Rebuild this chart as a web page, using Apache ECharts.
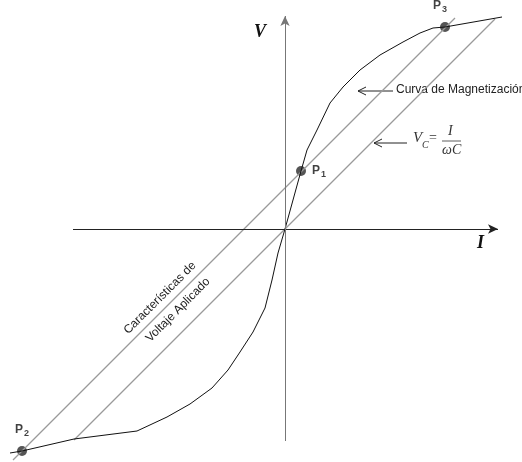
<!DOCTYPE html>
<html>
<head>
<meta charset="utf-8">
<script src="https://cdn.jsdelivr.net/npm/echarts@6/dist/echarts.min.js"></script>
<style>
  html, body { margin: 0; padding: 0; background: #fff; }
  #chart { width: 522px; height: 462px; }
</style>
</head>
<body>
<div id="chart"></div>
<script>
// coordinates relative to the origin of the I-V axes (1 unit = 1 px)
var curveI = [-275, -263, -211, -148, -118, -95, -73, -57, -45, -32, -20, -13, -7, 0, 8, 16, 22, 32, 45, 58, 75, 95, 118, 135, 148, 160, 217];
var curveV = [-224, -222, -210, -202, -188, -175, -159, -141, -123, -103, -79, -51, -24, 0, 29, 58, 79, 99, 126, 142, 159, 174, 187, 196, 201, 202, 212];
// applied voltage characteristics (two parallel lines)
var lineA = [[-272, -231], [170, 211]];
var lineB = [[-211, -211], [210, 210]];
// intersection points
var pointNames = ['P1', 'P2', 'P3'];
var pointI = [16, -263, 160];
var pointV = [58, -222, 202];

(function(){
  var myChart = echarts.init(document.getElementById('chart'));

  var curve = curveI.map(function (x, i) { return [x, curveV[i]]; });

  var sansFont = '"Liberation Sans", Arial, sans-serif';
  var serifFont = '"Liberation Serif", "Times New Roman", serif';

  // label placement for each point
  var labelPos = { P1: ['right', [1, 0]], P2: ['top', [0, -3]], P3: ['top', [-5, -3]] };
  var points = pointNames.map(function (n, i) {
    return { name: n, value: [pointI[i], pointV[i]], label: { position: labelPos[n][0], offset: labelPos[n][1] } };
  });

  var option = {
    backgroundColor: '#fff',
    animation: false,
    grid: { left: 0, right: 0, top: 0, bottom: 0 },
    xAxis: { type: 'value', min: -285, max: 237, show: false },
    yAxis: { type: 'value', min: -233, max: 229, show: false },
    series: [
      {
        name: 'A',
        type: 'line',
        data: lineA,
        symbol: 'none',
        lineStyle: { color: '#9a9a9a', width: 1.2 }
      },
      {
        name: 'B',
        type: 'line',
        data: lineB,
        symbol: 'none',
        lineStyle: { color: '#9a9a9a', width: 1.2 },
        markLine: {
          silent: true,
          symbol: ['none', 'arrow'],
          symbolSize: [7, 10],
          label: { show: false },
          data: [
            [{ coord: [-212, 0], lineStyle: { color: '#222', width: 1, type: 'solid' } }, { coord: [213, 0] }],
            [{ coord: [0, -212], lineStyle: { color: '#777', width: 1, type: 'solid' } }, { coord: [0, 213] }]
          ]
        }
      },
      {
        name: 'curva',
        type: 'line',
        data: curve,
        symbol: 'none',
        lineStyle: { color: '#111', width: 1 }
      },
      {
        name: 'puntos',
        type: 'scatter',
        data: points,
        symbolSize: 10,
        itemStyle: { color: '#2b2b2b' },
        label: {
          show: true,
          formatter: function (p) { return '{p|P}{s|' + p.name.slice(1) + '}'; },
          rich: {
            p: { fontFamily: sansFont, fontWeight: 'bold', fontSize: 12, color: '#111' },
            s: { fontFamily: sansFont, fontWeight: 'bold', fontSize: 9, color: '#111', padding: [7, 0, 0, 1] }
          }
        }
      }
    ],
    graphic: [
      { type: 'text', left: 254, top: 23, style: { text: 'V', font: 'italic bold 18px ' + serifFont, fill: '#111' } },
      { type: 'text', left: 477, top: 234, style: { text: 'I', font: 'italic bold 18px ' + serifFont, fill: '#111' } },
      // Curva de Magnetizacion arrow
      { type: 'polyline', shape: { points: [[358, 91], [393, 91]] }, style: { stroke: '#222', lineWidth: 1, fill: null } },
      { type: 'polyline', shape: { points: [[366, 87], [358, 91], [366, 95]] }, style: { stroke: '#222', lineWidth: 1, fill: null } },
      { type: 'text', left: 396, top: 84, style: { text: 'Curva de Magnetización', font: '12px ' + sansFont, fill: '#222' } },
      // V_C = I / wC arrow
      { type: 'polyline', shape: { points: [[374, 143], [407, 143]] }, style: { stroke: '#222', lineWidth: 1, fill: null } },
      { type: 'polyline', shape: { points: [[382, 139], [374, 143], [382, 147]] }, style: { stroke: '#222', lineWidth: 1, fill: null } },
      { type: 'text', left: 413, top: 131, style: { text: 'V', font: 'italic 15px ' + serifFont, fill: '#333' } },
      { type: 'text', left: 422, top: 140, style: { text: 'C', font: 'italic 10px ' + serifFont, fill: '#333' } },
      { type: 'text', left: 429, top: 131, style: { text: '=', font: '14px ' + serifFont, fill: '#333' } },
      { type: 'polyline', shape: { points: [[442, 141], [461, 141]] }, style: { stroke: '#333', lineWidth: 0.8, fill: null } },
      { type: 'text', left: 448, top: 124, style: { text: 'I', font: 'italic 14px ' + serifFont, fill: '#333' } },
      { type: 'text', left: 442, top: 143, style: { text: 'ωC', font: 'italic 14px ' + serifFont, fill: '#333' } },
      // rotated text along the applied voltage lines
      {
        type: 'text', x: 160, y: 298, rotation: Math.PI / 4,
        style: { text: 'Características de', font: '12px ' + sansFont, fill: '#222', textAlign: 'center', textVerticalAlign: 'middle' }
      },
      {
        type: 'text', x: 178, y: 310, rotation: Math.PI / 4,
        style: { text: 'Voltaje Aplicado', font: '12px ' + sansFont, fill: '#222', textAlign: 'center', textVerticalAlign: 'middle' }
      }
    ]
  };

  myChart.setOption(option);
  window.addEventListener('resize', function () {
    myChart.resize();
  });
})();
</script>
</body>
</html>
